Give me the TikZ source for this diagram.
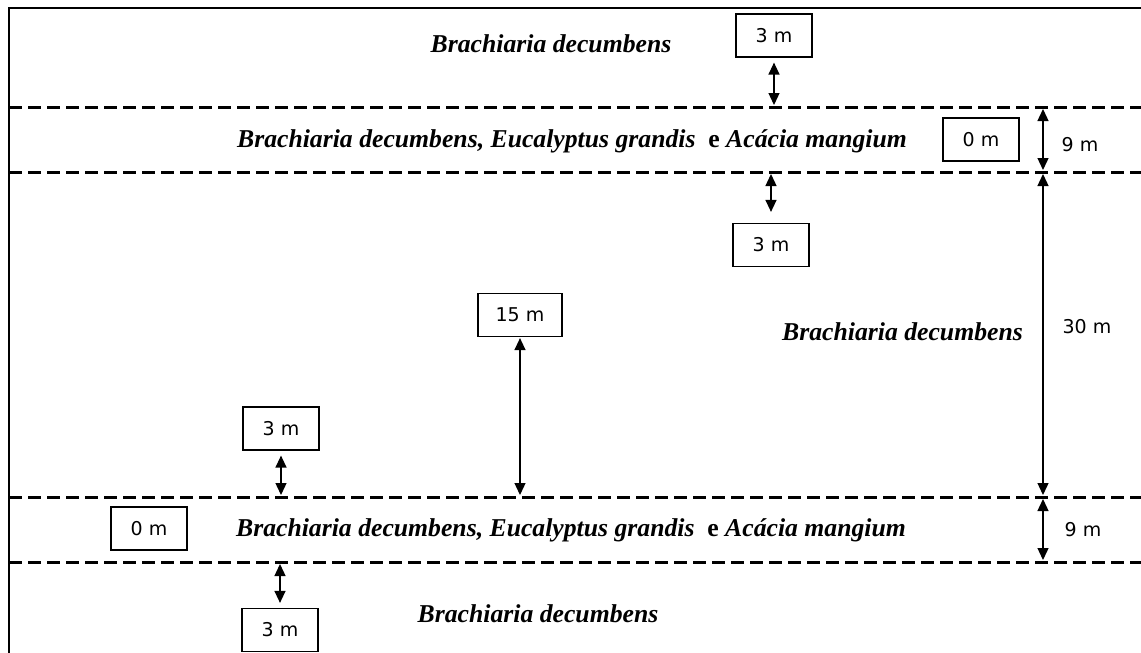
\documentclass[tikz,border=0pt]{standalone}
\usepackage{fontspec}
\setmainfont{Liberation Serif}
\newfontfamily\labfont{DejaVu Sans}
\usetikzlibrary{arrows.meta}
\tikzset{
  frame/.style={line width=2pt},
  band/.style={line width=3pt, dash pattern=on 13pt off 6pt},
  box/.style={draw, line width=1.2pt, minimum width=76pt, minimum height=43pt, inner sep=0pt, font=\labfont\fontsize{19}{22}\selectfont},
  lab/.style={inner sep=0pt, font=\labfont\fontsize{19}{22}\selectfont},
  sp/.style={inner sep=0pt, font=\fontsize{25.7}{30}\selectfont\bfseries\itshape},
  dim/.style={line width=1.3pt, {Triangle[length=12pt,width=11pt]}-{Triangle[length=12pt,width=11pt]}}
}
\begin{document}
\begin{tikzpicture}[x=1pt,y=-1pt]
\useasboundingbox (0,0) rectangle (1141,653);
% frame
\coordinate (fbl) at (9,653);
\coordinate (ftl) at (9,8);
\coordinate (ftr) at (1141,8);
\draw[frame] (fbl) -- (ftl) -- (ftr);
% dashed band lines
\coordinate (l1a) at (9,107); \coordinate (l1b) at (1141,107);
\coordinate (l2a) at (9,172); \coordinate (l2b) at (1141,172);
\coordinate (l3a) at (9,497); \coordinate (l3b) at (1141,497);
\coordinate (l4a) at (9,562); \coordinate (l4b) at (1141,562);
\draw[band] (l1a) -- (l1b);
\draw[band] (l2a) -- (l2b);
\draw[band] (l3a) -- (l3b);
\draw[band] (l4a) -- (l4b);
% species texts
\node[sp] (t1) at (551,44) {Brachiaria decumbens};
\node[sp] (t2) at (572,141) {Brachiaria decumbens, Eucalyptus grandis\ \ \upshape e \itshape Acácia mangium};
\node[sp, anchor=east] (t3) at (1023,332) {Brachiaria decumbens};
\node[sp] (t4) at (571,530) {Brachiaria decumbens, Eucalyptus grandis\ \ \upshape e \itshape Acácia mangium};
\node[sp] (t5) at (538,614) {Brachiaria decumbens};
% boxes
\node[box] (b1) at (774,35.5) {3 m};
\node[box] (b2) at (981,139.5) {0 m};
\node[box] (b3) at (771,245) {3 m};
\node[box, minimum width=84pt] (b4) at (520,315) {15 m};
\node[box] (b5) at (281,428.5) {3 m};
\node[box] (b6) at (149,528.5) {0 m};
\node[box] (b7) at (280,630) {3 m};
% arrows between boxes and lines
\coordinate (a1) at (774,105);
\draw[dim, shorten <=5pt] (b1) -- (a1);
\coordinate (a2) at (771,174);
\draw[dim, shorten >=11pt] (a2) -- (b3);
\coordinate (a4) at (520,495);
\draw[dim, shorten <=1pt] (b4) -- (a4);
\coordinate (a5) at (281,495);
\draw[dim, shorten <=5pt] (b5) -- (a5);
\coordinate (a7) at (280,564);
\draw[dim, shorten >=5pt] (a7) -- (b7);
% dimension arrows right
\coordinate (n1a) at (1043,109); \coordinate (n1b) at (1043,170);
\draw[dim] (n1a) -- (n1b);
\node[lab] (d1) at (1080,145) {9 m};
\coordinate (n2a) at (1043,174); \coordinate (n2b) at (1043,495);
\draw[dim] (n2a) -- (n2b);
\node[lab] (d2) at (1087,327) {30 m};
\coordinate (n3a) at (1043,499); \coordinate (n3b) at (1043,560);
\draw[dim] (n3a) -- (n3b);
\node[lab] (d3) at (1083,530) {9 m};
\end{tikzpicture}
\end{document}
